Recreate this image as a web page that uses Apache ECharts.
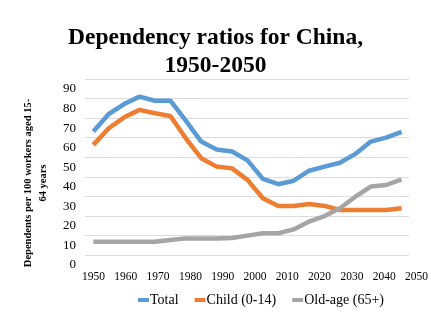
<!DOCTYPE html>
<html>
<head>
<meta charset="utf-8">
<script src="https://cdn.jsdelivr.net/npm/echarts@6/dist/echarts.min.js"></script>
<style>html,body{margin:0;padding:0;background:#fff}#c{width:431px;height:321px}</style>
</head>
<body>
<div id="c"></div>
<script>
// Data (years 1950..2050, every 5 years)
const years = [1950,1955,1960,1965,1970,1975,1980,1985,1990,1995,2000,2005,2010,2015,2020,2025,2030,2035,2040,2045,2050];
const total  = [63.1,72.1,77.2,81.0,78.9,78.9,68.7,58.0,54.0,52.9,48.4,38.9,36.2,38.0,43.1,45.2,47.2,51.7,58.0,60.0,63.0];
const child  = [56.3,64.8,70.4,74.2,72.5,71.1,59.7,49.5,45.2,44.3,38.4,29.0,25.1,25.1,26.1,25.1,23.0,23.0,23.0,23.0,23.9];
const oldAge = [6.8,6.8,6.8,6.8,6.8,7.7,8.5,8.5,8.5,8.7,9.9,11.1,11.1,13.1,17.1,19.9,23.9,29.8,35.0,35.8,38.7];
const xTickLabels = ['1950','1960','1970','1980','1990','2000','2010','2020','2030','2040','2050'];
const seriesNames = ['Total','Child (0-14)','Old-age (65+)'];
const colors = ['#5B9BD5','#ED7D31','#A5A5A5'];

const FONT = '"Liberation Serif", "Times New Roman", serif';
const chart = echarts.init(document.getElementById('c'), null, {renderer:'canvas'});
const mk = (arr) => years.map((y,i)=>[y, arr[i]]);
chart.setOption({
  animation: false,
  color: colors,
  title: {
    text: 'Dependency ratios for China,\n1950-2050',
    left: 'center', top: 19,
    textStyle: {fontFamily: FONT, fontWeight: 'bold', fontSize: 23.5, lineHeight: 28, color: '#000'}
  },
  legend: {
    data: seriesNames,
    left: 133, top: 288,
    icon: 'rect', itemWidth: 11, itemHeight: 4, itemGap: 16,
    textStyle: {fontFamily: FONT, fontSize: 14, color: '#000', padding: [0,0,0,-4]}
  },
  grid: [
    {left: 85, right: 22, top: 79, bottom: 66},
    {left: 93.5, width: 324.5, top: 79, bottom: 66}
  ],
  xAxis: [
    {type: 'value', gridIndex: 0, min: 1947.3, max: 2052.4, show: false},
    {type: 'category', gridIndex: 1, data: xTickLabels, boundaryGap: false,
     axisLine: {show: false}, axisTick: {show: false}, splitLine: {show: false},
     axisLabel: {interval: 0, margin: 16, fontFamily: FONT, fontSize: 11.5, color: '#000'}}
  ],
  yAxis: [
    {type: 'value', gridIndex: 0, min: 0, max: 90, interval: 10,
     name: 'Dependents per 100 workers aged 15-\n64 years',
     nameLocation: 'middle', nameGap: 34,
     nameTextStyle: {fontFamily: FONT, fontWeight: 'bold', fontSize: 10.5, lineHeight: 15, color: '#000', padding: [0,32,0,0]},
     axisLine: {show: false}, axisTick: {show: false},
     splitLine: {lineStyle: {color: '#dcdcdc', width: 1}},
     axisLabel: {margin: 9, fontFamily: FONT, fontSize: 13, color: '#000', verticalAlign: 'top', lineHeight: 14,
                 padding: [3,0,0,0], showMinLabel: true, showMaxLabel: true, hideOverlap: false}},
    {type: 'value', gridIndex: 1, show: false}
  ],
  series: [
    {name: seriesNames[0], type: 'line', data: mk(total), showSymbol: false, lineStyle: {width: 4.5}, xAxisIndex: 0, yAxisIndex: 0},
    {name: seriesNames[1], type: 'line', data: mk(child), showSymbol: false, lineStyle: {width: 4.5}, xAxisIndex: 0, yAxisIndex: 0},
    {name: seriesNames[2], type: 'line', data: mk(oldAge), showSymbol: false, lineStyle: {width: 4.5}, xAxisIndex: 0, yAxisIndex: 0}
  ]
});
</script>
</body>
</html>
